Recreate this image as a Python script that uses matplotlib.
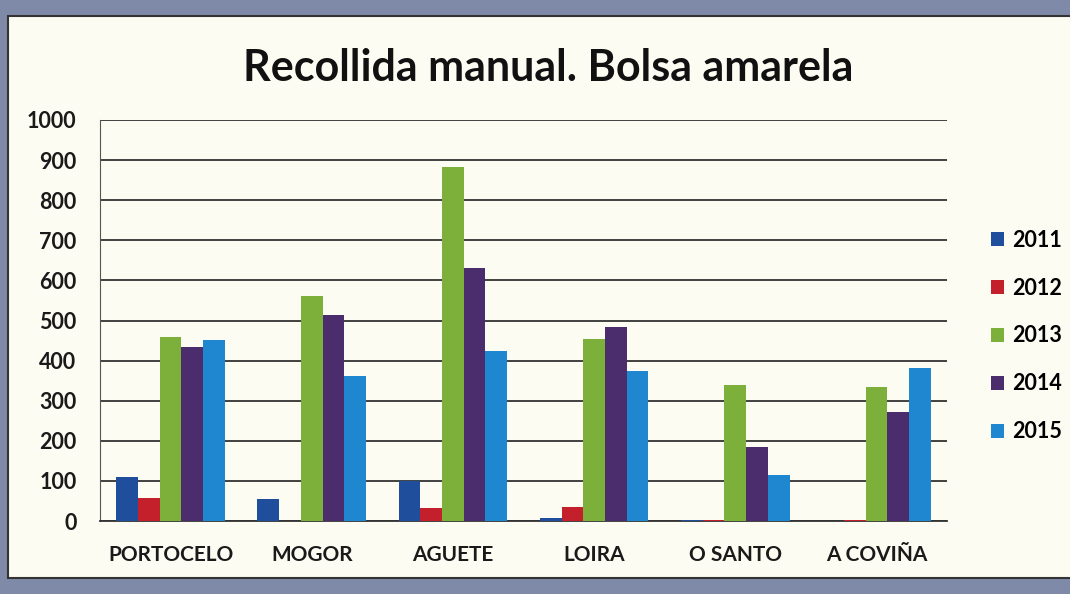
import numpy as np
import matplotlib
matplotlib.use("Agg")
import matplotlib.pyplot as plt
from matplotlib.patches import Rectangle

plt.rcParams['font.family'] = ['Lato', 'DejaVu Sans']

categories = ["PORTOCELO", "MOGOR", "AGUETE", "LOIRA", "O SANTO", "A COVIÑA"]
years = ["2011", "2012", "2013", "2014", "2015"]
v2011 = [110, 55, 100, 7, 2, 0]
v2012 = [57, 0, 32, 35, 3, 3]
v2013 = [460, 562, 883, 454, 339, 334]
v2014 = [433, 514, 631, 484, 185, 272]
v2015 = [452, 362, 424, 374, 115, 381]
series = [v2011, v2012, v2013, v2014, v2015]
colors = ["#1f4e9c", "#c3202b", "#7cb03a", "#4b2d6e", "#1e87d0"]

fig = plt.figure(figsize=(10.7, 5.94), dpi=100)
fig.patch.set_facecolor("#7f8aa8")

# cream panel inside the grey frame
panel = Rectangle((8 / 1070, 16 / 594), 1.0, 562 / 594, transform=fig.transFigure,
                  facecolor="#fdfcf2", edgecolor="#333333", linewidth=1.5, zorder=-1)
fig.patches.append(panel)

ax = fig.add_axes([100 / 1070, (594 - 521) / 594, 847 / 1070, 401 / 594])
ax.set_facecolor("#fdfcf2")
ax.set_zorder(1)

x = np.arange(len(categories))
w = 1 / 6.5
for i, (vals, col, yr) in enumerate(zip(series, colors, years)):
    ax.bar(x - 2 * w + i * w, vals, width=w, color=col, label=yr, zorder=3)

ax.set_xlim(-0.5, len(categories) - 0.5)
ax.set_ylim(0, 1000)
ax.set_yticks(range(0, 1001, 100))
ax.yaxis.grid(True, color="#333333", linewidth=1.3, zorder=1)
ax.set_xticks(x)
ax.set_xticklabels(categories)
ax.tick_params(axis="x", length=0, pad=17, labelsize=15)
ax.tick_params(axis="y", length=0, pad=17, labelsize=15.5)
for lab in ax.get_xticklabels() + ax.get_yticklabels():
    lab.set_fontweight("bold")
    lab.set_color("#1a1a1a")
for s in ["top", "right"]:
    ax.spines[s].set_visible(False)
ax.spines["left"].set_color("#555555")
ax.spines["bottom"].set_color("#333333")
ax.spines["bottom"].set_linewidth(1.3)

fig.text(0.512, 0.886, "Recollida manual. Bolsa amarela", ha="center", va="center",
         fontsize=31, fontweight="bold", color="#111111")

leg = fig.legend(loc="center left", bbox_to_anchor=(972 / 1070, (594 - 336) / 594),
                 frameon=False, handlelength=0.6, handleheight=0.6, handletextpad=0.35,
                 labelspacing=1.25, prop={"size": 15.5, "weight": "bold"})

fig.savefig("out.png", dpi=100, facecolor=fig.get_facecolor())
